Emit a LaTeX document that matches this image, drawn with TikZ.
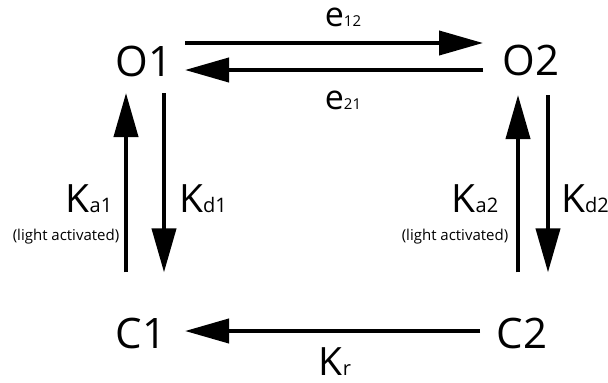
\documentclass[tikz,border=0pt]{standalone}
\usepackage{fontspec}
\setmainfont{Open Sans}
\usetikzlibrary{arrows.meta}

\newcommand{\sbig}[1]{{\fontsize{20}{20}\selectfont #1}}
\newcommand{\ssmall}[1]{{\fontsize{15}{15}\selectfont #1}}

\begin{document}
\begin{tikzpicture}[x=1pt, y=-1pt,
  state/.style={inner sep=0pt, font=\fontsize{42}{42}\selectfont},
  rate/.style={inner sep=0pt, anchor=base, font=\fontsize{39}{39}\selectfont},
  note/.style={inner sep=0pt, anchor=base, font=\fontsize{15}{15}\selectfont},
  arr/.style={line width=4pt, -{Triangle[length=44pt, width=24pt]}}]
  \useasboundingbox (0,0) rectangle (608,383);
  \node[state] (O1) at (144,61) {O1};
  \node[state] (O2) at (531,60) {O2};
  \node[state] (C1) at (141,333) {C1};
  \node[state] (C2) at (522,333) {C2};
  \draw[arr] ([xshift=41pt, yshift=18pt]O1.center) -- ([xshift=-48pt, yshift=17pt]O2.center);
  \draw[arr] ([xshift=-48pt, yshift=-10pt]O2.center) -- ([xshift=41pt, yshift=-9pt]O1.center);
  \draw[arr] ([xshift=-42pt, yshift=2pt]C2.center) -- ([xshift=44pt, yshift=2pt]C1.center);
  \draw[arr] ([xshift=-15pt, yshift=45pt]C1.north) -- ([xshift=-18pt, yshift=-32pt]O1.center);
  \draw[arr] ([xshift=20pt, yshift=-32pt]O1.center) -- ([xshift=23pt, yshift=45pt]C1.north);
  \draw[arr] ([xshift=-4pt, yshift=45pt]C2.north) -- ([xshift=-13pt, yshift=-35pt]O2.center);
  \draw[arr] ([xshift=17pt, yshift=-35pt]O2.center) -- ([xshift=26pt, yshift=45pt]C2.north);
  % labels
  \node[rate, font=\fontsize{34}{34}\selectfont] (e12) at (343,26) {e\ssmall{12}};
  \node[rate, font=\fontsize{34}{34}\selectfont] (e21) at (343,109) {e\ssmall{21}};
  \node[rate] (ka1) at (89,212) {K\sbig{a1}};
  \node[rate] (kd1) at (203,212) {K\sbig{d1}};
  \node[rate] (ka2) at (475,212) {K\sbig{a2}};
  \node[rate] (kd2) at (585,212) {K\sbig{d2}};
  \node[rate] (kr) at (335,375) {K\sbig{r}};
  \node[note] (la1) at (66,240) {(light activated)};
  \node[note] (la2) at (455,240) {(light activated)};
\end{tikzpicture}
\end{document}
